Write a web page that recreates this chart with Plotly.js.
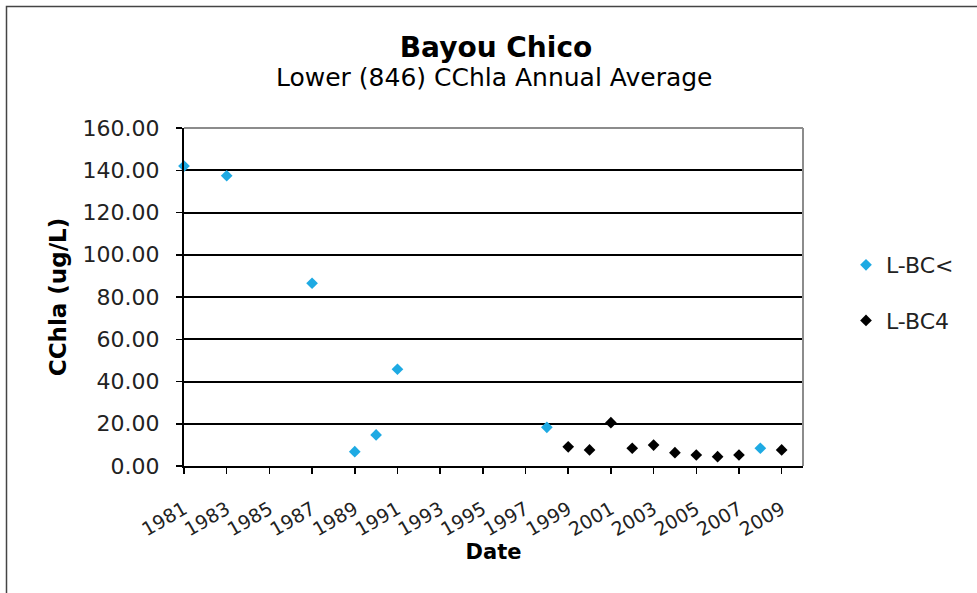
<!DOCTYPE html>
<html>
<head>
<meta charset="utf-8">
<script src="https://cdn.plot.ly/plotly-3.0.1.min.js"></script>
<style>html,body{margin:0;padding:0;background:#fff;}#chart{width:977px;height:593px;}</style>
</head>
<body>
<div id="chart"></div>
<script>
// Data
const seriesNames = ['L-BC<', 'L-BC4'];
const blueYears = [1981, 1983, 1987, 1989, 1990, 1991, 1998, 2008];
const blueValues = [142.0, 137.4, 86.5, 6.8, 14.7, 45.8, 18.3, 8.4];
const blackYears = [1999, 2000, 2001, 2002, 2003, 2004, 2005, 2006, 2007, 2009];
const blackValues = [9.1, 7.6, 20.5, 8.4, 9.9, 6.3, 5.2, 4.4, 5.2, 7.6];
const xTickYears = [1981, 1983, 1985, 1987, 1989, 1991, 1993, 1995, 1997, 1999, 2001, 2003, 2005, 2007, 2009];
const yTickValues = [0, 20, 40, 60, 80, 100, 120, 140, 160];
const yTickLabels = ['0.00', '20.00', '40.00', '60.00', '80.00', '100.00', '120.00', '140.00', '160.00'];

const FONT = 'DejaVu Sans, Arial, sans-serif';

const traces = [
  {
    type: 'scatter', mode: 'markers', name: seriesNames[0], legendgroup: 'a',
    x: blueYears, y: blueValues,
    marker: {symbol: 'diamond', size: 9, color: '#1eaae3'},
    cliponaxis: false
  },
  {
    type: 'scatter', mode: 'markers', name: seriesNames[1], legendgroup: 'b',
    x: blackYears, y: blackValues,
    marker: {symbol: 'diamond', size: 9, color: '#000000'},
    cliponaxis: false
  }
];

const L = 184, R = 803, T = 128, B = 466;
const px2x = p => (p - L) / (R - L);
const px2y = p => (B - p) / (B - T);

const layout = {
  width: 977, height: 593,
  margin: {l: L, r: 977 - R, t: T, b: 593 - B, pad: 0},
  paper_bgcolor: '#ffffff', plot_bgcolor: '#ffffff',
  font: {family: FONT, color: '#000'},
  showlegend: true,
  title: {
    text: 'Bayou Chico',
    font: {family: FONT, size: 28, weight: 'bold', color: '#000'},
    x: 496 / 977, xanchor: 'center', xref: 'container',
    y: 1 - 47 / 593, yanchor: 'middle', yref: 'container'
  },
  annotations: [{
    text: 'Lower (846) CChla Annual Average',
    xref: 'paper', yref: 'paper',
    x: px2x(494), y: px2y(78), xanchor: 'center', yanchor: 'middle',
    showarrow: false,
    font: {family: FONT, size: 25, color: '#000'}
  }],
  xaxis: {
    type: 'linear', range: [1981, 2010],
    tickmode: 'array', tickvals: xTickYears, ticktext: xTickYears.map(String),
    tickangle: -30,
    ticks: 'outside', ticklen: 6, tickwidth: 1.5, tickcolor: '#000',
    showline: true, linecolor: '#000', linewidth: 2,
    showgrid: false, zeroline: false,
    tickfont: {family: FONT, size: 19, color: '#222'},
    ticklabelstandoff: 17,
    title: {text: 'Date', font: {family: FONT, size: 21, weight: 'bold', color: '#000'}, standoff: 4},
    automargin: false
  },
  yaxis: {
    range: [0, 160],
    tickmode: 'array', tickvals: yTickValues, ticktext: yTickLabels,
    ticks: 'outside', ticklen: 6, tickwidth: 1.5, tickcolor: '#000',
    showline: true, linecolor: '#000', linewidth: 2,
    showgrid: true, gridcolor: '#000', gridwidth: 2,
    zeroline: false,
    tickfont: {family: FONT, size: 22, color: '#222'},
    ticklabelstandoff: 12,
    title: {text: 'CChla (ug/L)', font: {family: FONT, size: 23, weight: 'bold', color: '#000'}, standoff: 10},
    automargin: false
  },
  legend: {
    x: px2x(846), y: px2y(244), xanchor: 'left', yanchor: 'top',
    traceorder: 'grouped', tracegroupgap: 24,
    font: {family: FONT, size: 22, color: '#222'},
    bgcolor: 'rgba(0,0,0,0)', borderwidth: 0
  },
  shapes: [
    // top and right frame of plot area (gray)
    {type: 'line', xref: 'paper', yref: 'paper', x0: 0, x1: 1, y0: 1, y1: 1, line: {color: '#8c8c8c', width: 2}, layer: 'above'},
    {type: 'line', xref: 'paper', yref: 'paper', x0: 1, x1: 1, y0: 0, y1: 1, line: {color: '#8c8c8c', width: 2}, layer: 'above'},
    // outer chart border
    {type: 'rect', xref: 'paper', yref: 'paper', x0: px2x(6.5), x1: px2x(990), y0: px2y(6.5), y1: px2y(610), line: {color: '#444', width: 1.5}, layer: 'below'}
  ]
};

Plotly.newPlot('chart', traces, layout, {displayModeBar: false, staticPlot: true});
</script>
</body>
</html>
